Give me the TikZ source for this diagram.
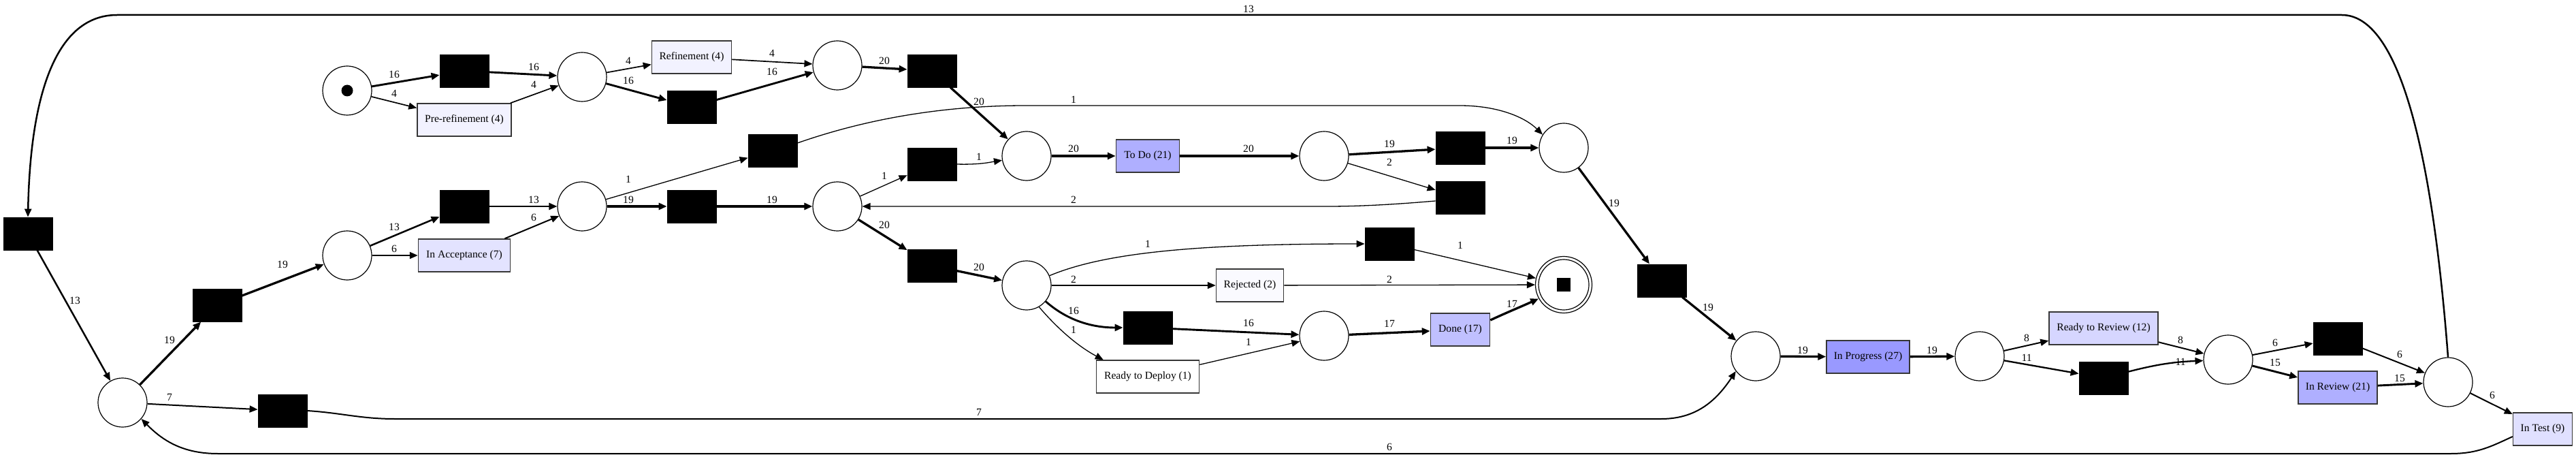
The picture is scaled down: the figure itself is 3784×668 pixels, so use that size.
\documentclass[tikz,border=0pt]{standalone}
\usepackage{fontspec}
\setmainfont{Liberation Serif}
\usetikzlibrary{arrows.meta}
\definecolor{bdr}{HTML}{363636}
\definecolor{cPre}{HTML}{F2F2FF}
\definecolor{cRef}{HTML}{F2F2FF}
\definecolor{cAcc}{HTML}{E3E3FF}
\definecolor{cTodo}{HTML}{AFAFFF}
\definecolor{cRej}{HTML}{FAFAFF}
\definecolor{cRD}{HTML}{FFFFFF}
\definecolor{cDone}{HTML}{C0C0FF}
\definecolor{cProg}{HTML}{9999FF}
\definecolor{cRtR}{HTML}{D6D6FF}
\definecolor{cRev}{HTML}{AFAFFF}
\definecolor{cTest}{HTML}{E0E0FF}
\begin{document}
\begin{tikzpicture}[x=0.5pt,y=-0.5pt,
  place/.style={circle,draw,line width=0.6pt,minimum size=36pt,inner sep=0pt},
  trans/.style={rectangle,draw,fill=black,minimum width=36pt,minimum height=24pt,inner sep=0pt},
  act/.style={rectangle,draw=bdr,line width=0.75pt,minimum height=24pt,inner xsep=5pt,inner ysep=0pt,font=\fontsize{7.8}{9}\selectfont},
  lbl/.style={font=\fontsize{7.8}{9}\selectfont,inner sep=0pt},
  arr/.style={-{Triangle[length=6pt,width=5pt]}},
  w1/.style={arr,line width=0.65pt},
  w4/.style={arr,line width=0.85pt},
  w6/.style={arr,line width=1.0pt},
  w11/.style={arr,line width=1.15pt},
  w13/.style={arr,line width=1.25pt},
  w16/.style={arr,line width=1.45pt},
  w19/.style={arr,line width=1.65pt}
]
\useasboundingbox (0,0) rectangle (3784,668);
% places
\node[place] (pS) at (510,133) {};
\fill (pS.center) circle (4.25pt);
\node[place] (pA) at (855,113) {};
\node[place] (pB) at (1230,96) {};
\node[place] (pC) at (1508,229) {};
\node[place] (pD) at (1945,229) {};
\node[place] (pE) at (2297,217) {};
\node[place] (pF) at (1230,303) {};
\node[place] (pG) at (855,303) {};
\node[place] (pH) at (510,375) {};
\node[place] (pI) at (180,591) {};
\node[place] (pJ) at (1508,419) {};
\node[place] (pK) at (1945,493) {};
\node[place,minimum size=41.5pt] (pEnd) at (2297,418) {};
\draw[line width=0.6pt] (pEnd.center) circle (18.5pt);
\fill ([xshift=-5pt,yshift=-5pt]pEnd.center) rectangle ([xshift=5pt,yshift=5pt]pEnd.center);
\node[place] (pL) at (2579,523) {};
\node[place] (pM) at (2908,523) {};
\node[place] (pN) at (3273,528) {};
\node[place] (pO) at (3596,561) {};
% transitions
\node[trans] (t1) at (682,104) {};
\node[trans] (t2) at (1016,157) {};
\node[trans] (t3) at (1369,104) {};
\node[trans] (t4) at (1369,241) {};
\node[trans] (t5) at (1135,221) {};
\node[trans] (t6) at (1016,303) {};
\node[trans] (t7) at (682,303) {};
\node[trans] (t8) at (319,448) {};
\node[trans] (t9) at (41,343) {};
\node[trans] (t10) at (415,603) {};
\node[trans] (t11) at (1369,390) {};
\node[trans] (t12) at (1686,481) {};
\node[trans] (t13) at (2041,358) {};
\node[trans] (t14) at (2145,217) {};
\node[trans] (t15) at (2145,290) {};
\node[trans] (t16) at (2441,412) {};
\node[trans] (t17) at (3090,555) {};
\node[trans] (t18) at (3434,497) {};
% activities
\node[act,fill=cPre,minimum width=69pt] (nPre) at (682,176) {Pre-refinement (4)};
\node[act,fill=cRef,minimum width=58.5pt] (nRef) at (1016,84) {Refinement (4)};
\node[act,fill=cAcc,minimum width=67.5pt] (nAcc) at (682,375) {In Acceptance (7)};
\node[act,fill=cTodo,minimum width=46.5pt] (nTodo) at (1686,229) {To Do (21)};
\node[act,fill=cRej,minimum width=49.5pt] (nRej) at (1836,419) {Rejected (2)};
\node[act,fill=cRD,minimum width=75.5pt] (nRD) at (1686,553) {Ready to Deploy (1)};
\node[act,fill=cDone,minimum width=43.5pt] (nDone) at (2145,484) {Done (17)};
\node[act,fill=cProg,minimum width=61pt] (nProg) at (2744,524) {In Progress (27)};
\node[act,fill=cRtR,minimum width=80pt] (nRtR) at (3090,482) {Ready to Review (12)};
\node[act,fill=cRev,minimum width=58pt] (nRev) at (3434,569) {In Review (21)};
\node[act,fill=cTest,minimum width=43.5pt] (nTest) at (3735,630) {In Test (9)};
% arcs
\draw[w16] (pS) -- (t1);
\draw[w4] (pS) -- (nPre);
\draw[w16] (t1) -- (pA);
\draw[w4] (nPre) -- (pA);
\draw[w4] (pA) -- (nRef);
\draw[w16] (pA) -- (t2);
\draw[w4] (nRef) -- (pB);
\draw[w16] (t2) -- (pB);
\draw[w19] (pB) -- (t3);
\draw[w19] (t3) -- (pC);
\draw[w1] (t4.east) .. controls (1440,242) and (1455,238) .. (pC.190);
\draw[w19] (pC) -- (nTodo);
\draw[w19] (nTodo) -- (pD);
\draw[w19] (pD) -- (t14);
\draw[w1] (pD) -- (t15);
\draw[w19] (t14) -- (pE);
\draw[w1] ([yshift=5.5pt]t5.east) .. controls (1300,165) and (1420,155) .. (1506,155) -- (2144,155) .. controls (2200,155) and (2240,172) .. (pE.148);
\draw[w1] (pG) -- (t5);
\draw[w19] (pG) -- (t6);
\draw[w19] (t6) -- (pF);
\draw[w1] (pF) -- (t4);
\draw[w19] (pF) -- (t11);
\draw[w1] ([yshift=-2.5pt]t15.west) .. controls (2050,300) and (2000,303) .. (1950,303) -- (pF.east);
\draw[w19] (t11) -- (pJ);
\draw[w1] (pJ.23) .. controls (1620,372) and (1750,358) .. (t13.west);
\draw[w1] (pJ) -- (nRej);
\draw[w16] (pJ.-40) .. controls (1565,468) and (1600,481) .. (t12.west);
\draw[w1] (pJ.-60) .. controls (1560,490) and (1590,512) .. ([xshift=5.5pt]nRD.north west);
\draw[w16] (t12) -- (pK);
\draw[w1] (nRD) -- (pK);
\draw[w1] (nRej) -- (pEnd);
\draw[w1] (t13) -- (pEnd);
\draw[w19] (pK) -- (nDone);
\draw[w19] ([yshift=7pt]nDone.east) .. controls (2215,458) and (2235,450) .. (pEnd.-151);
\draw[w19] (pE) -- (t16);
\draw[w19] (t16) -- (pL);
\draw[w6] (t10.east) .. controls (500,606) and (530,615) .. (580,615) -- (2440,615) .. controls (2490,615) and (2520,590) .. (pL.-143);
\draw[w19] (pL) -- (nProg);
\draw[w19] (nProg) -- (pM);
\draw[w6] (pM) -- (nRtR);
\draw[w11] (pM) -- (t17);
\draw[w6] (nRtR) -- (pN);
\draw[w11] (t17) to[bend left=6] (pN);
\draw[w6] (pN) -- (t18);
\draw[w16] (pN) -- (nRev);
\draw[w6] (t18) -- (pO);
\draw[w16] (nRev) -- (pO);
\draw[w6] (pO) -- (nTest);
\draw[w6] ([yshift=-5.5pt]nTest.west) .. controls (3660,655) and (3640,666) .. (3600,666) -- (320,666) .. controls (270,666) and (240,648) .. (pI.-41);
\draw[w13] (pO.north) .. controls (3575,250) and (3530,22) .. (3440,22) -- (172,22) .. controls (90,22) and (45,120) .. (t9.north);
\draw[w13] (t9) -- (pI);
\draw[w19] (pI) -- (t8);
\draw[w19] (t8) -- (pH);
\draw[w13] (pH) -- (t7);
\draw[w6] (pH) -- (nAcc);
\draw[w13] (t7) -- (pG);
\draw[w6] (nAcc) -- (pG);
\draw[w6] (pI) -- (t10);
% labels
\node[lbl] (l1) at (579,109) {16};
\node[lbl] (l2) at (579,137) {4};
\node[lbl] (l3) at (784,98) {16};
\node[lbl] (l4) at (784,124) {4};
\node[lbl] (l5) at (923,89) {4};
\node[lbl] (l6) at (923,118) {16};
\node[lbl] (l7) at (1134,78) {4};
\node[lbl] (l8) at (1134,105) {16};
\node[lbl] (l9) at (1299,89) {20};
\node[lbl] (l10) at (1438,149) {20};
\node[lbl] (l11) at (1438,230) {1};
\node[lbl] (l12) at (1577,218) {20};
\node[lbl] (l13) at (1834,218) {20};
\node[lbl] (l14) at (2041,211) {19};
\node[lbl] (l15) at (2041,238) {2};
\node[lbl] (l16) at (2221,206) {19};
\node[lbl] (l17) at (1577,146) {1};
\node[lbl] (l18) at (923,263) {1};
\node[lbl] (l19) at (923,293) {19};
\node[lbl] (l20) at (1134,293) {19};
\node[lbl] (l21) at (1299,258) {1};
\node[lbl] (l22) at (1299,330) {20};
\node[lbl] (l23) at (1577,293) {2};
\node[lbl] (l24) at (1438,392) {20};
\node[lbl] (l25) at (1686,358) {1};
\node[lbl] (l26) at (1577,410) {2};
\node[lbl] (l27) at (1577,456) {16};
\node[lbl] (l28) at (1577,484) {1};
\node[lbl] (l29) at (1834,474) {16};
\node[lbl] (l30) at (1834,502) {1};
\node[lbl] (l31) at (2041,410) {2};
\node[lbl] (l32) at (2145,360) {1};
\node[lbl] (l33) at (2041,475) {17};
\node[lbl] (l34) at (2221,446) {17};
\node[lbl] (l35) at (2371,298) {19};
\node[lbl] (l36) at (2509,451) {19};
\node[lbl] (l37) at (1438,605) {7};
\node[lbl] (l38) at (2648,514) {19};
\node[lbl] (l39) at (2838,514) {19};
\node[lbl] (l40) at (2977,496) {8};
\node[lbl] (l41) at (2977,525) {11};
\node[lbl] (l42) at (3203,499) {8};
\node[lbl] (l43) at (3203,531) {11};
\node[lbl] (l44) at (3342,503) {6};
\node[lbl] (l45) at (3342,532) {15};
\node[lbl] (l46) at (3525,520) {6};
\node[lbl] (l47) at (3525,555) {15};
\node[lbl] (l48) at (3661,580) {6};
\node[lbl] (l49) at (2041,656) {6};
\node[lbl] (l50) at (1834,13) {13};
\node[lbl] (l51) at (110,441) {13};
\node[lbl] (l52) at (249,499) {19};
\node[lbl] (l53) at (415,388) {19};
\node[lbl] (l54) at (579,333) {13};
\node[lbl] (l55) at (579,365) {6};
\node[lbl] (l56) at (784,293) {13};
\node[lbl] (l57) at (784,319) {6};
\node[lbl] (l58) at (249,583) {7};
\end{tikzpicture}
\end{document}
